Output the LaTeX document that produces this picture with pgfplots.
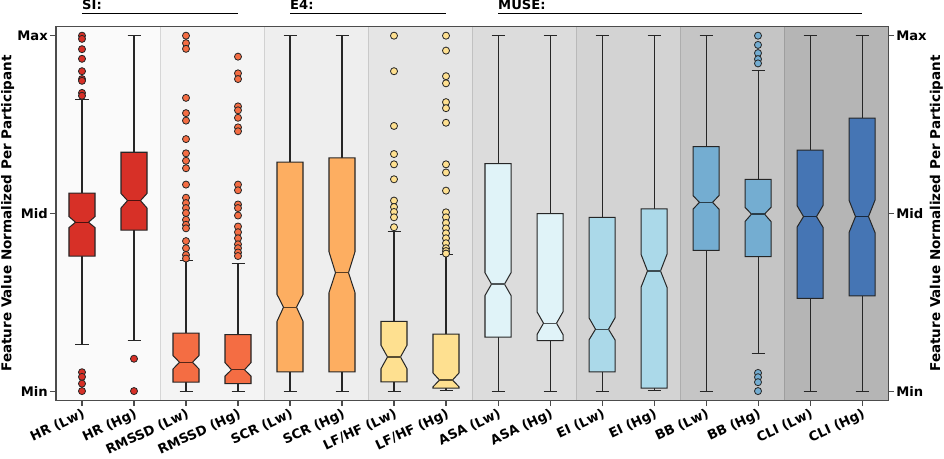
\documentclass[border=0pt]{standalone}
\usepackage{fontspec}
\setmainfont{DejaVu Sans}
\usepackage{pgfplots}
\pgfplotsset{compat=1.18}
\usepgfplotslibrary{statistics}

\definecolor{cHR}{HTML}{D73027}
\definecolor{cRM}{HTML}{F46D43}
\definecolor{cSC}{HTML}{FDAE61}
\definecolor{cLF}{HTML}{FEE090}
\definecolor{cAS}{HTML}{E0F3F8}
\definecolor{cEI}{HTML}{ABD9E9}
\definecolor{cBB}{HTML}{74ADD1}
\definecolor{cCL}{HTML}{4575B4}
% background shades of the pairs
\definecolor{g1}{RGB}{250,250,250}
\definecolor{g2}{RGB}{244,244,244}
\definecolor{g3}{RGB}{238,238,238}
\definecolor{g4}{RGB}{229,229,229}
\definecolor{g5}{RGB}{220,220,220}
\definecolor{g6}{RGB}{211,211,211}
\definecolor{g7}{RGB}{197,197,197}
\definecolor{g8}{RGB}{181,181,181}

\newcommand{\lbl}{\bfseries\fontsize{13}{15}\selectfont}
\newcommand{\ylbl}{\bfseries\fontsize{13.4}{15}\selectfont}

% notched boxes (notch inset = 1/4 of box width, as matplotlib)
\pgfplotsset{
  boxplot/notch lo/.initial=0,
  boxplot/notch hi/.initial=0,
  boxplot/draw/box/.code={%
    \draw[/pgfplots/boxplot/every box/.try]
      (boxplot box cs:\pgfplotsboxplotvalue{lower quartile},0) --
      (boxplot box cs:\pgfplotsboxplotvalue{notch lo},0) --
      (boxplot box cs:\pgfplotsboxplotvalue{median},0.25) --
      (boxplot box cs:\pgfplotsboxplotvalue{notch hi},0) --
      (boxplot box cs:\pgfplotsboxplotvalue{upper quartile},0) --
      (boxplot box cs:\pgfplotsboxplotvalue{upper quartile},1) --
      (boxplot box cs:\pgfplotsboxplotvalue{notch hi},1) --
      (boxplot box cs:\pgfplotsboxplotvalue{median},0.75) --
      (boxplot box cs:\pgfplotsboxplotvalue{notch lo},1) --
      (boxplot box cs:\pgfplotsboxplotvalue{lower quartile},1) -- cycle;
  },
  boxplot/draw/median/.code={%
    \draw[/pgfplots/boxplot/every median/.try]
      (boxplot box cs:\pgfplotsboxplotvalue{median},0.25) --
      (boxplot box cs:\pgfplotsboxplotvalue{median},0.75);
  },
  bx/.style={fill=#1, draw=black!85, line width=1pt,
    mark=*, mark size=3.5pt,
    mark options={fill=#1, draw=black!85, line width=0.8pt},
    boxplot/every median/.style={draw=#1!35!black, line width=1.2pt}},
  band/.style={fill=#1, draw=black, draw opacity=0.12, line width=0.8pt, forget plot},
}

\begin{document}
\begin{tikzpicture}
\begin{axis}[
  scale only axis, width=824pt, height=370pt,
  xmin=0.5, xmax=16.5, ymin=-0.0256, ymax=1.0256,
  axis on top, clip=false,
  xtick={1,...,16},
  xticklabels={HR (Lw),HR (Hg),RMSSD (Lw),RMSSD (Hg),SCR (Lw),SCR (Hg),LF/HF (Lw),LF/HF (Hg),ASA (Lw),ASA (Hg),EI (Lw),EI (Hg),BB (Lw),BB (Hg),CLI (Lw),CLI (Hg)},
  ytick={0,0.5,1}, yticklabels={Min,Mid,Max},
  xtick pos=bottom, ytick pos=left,
  tick align=outside, major tick length=6pt,
  tick style={draw=black!70, line width=1pt},
  axis line style={draw=black!70, line width=1pt},
  ticklabel style={font=\lbl},
  xticklabel style={rotate=25, anchor=north east, inner sep=1pt},
  yticklabel style={inner sep=2pt},
  ylabel={Feature Value Normalized Per Participant},
  ylabel style={font=\ylbl, inner sep=1pt},
  boxplot/draw direction=y,
  boxplot/box extend=0.5, boxplot/whisker extend=0.25,
]
% shaded pairs
\addplot[band=g1] coordinates {(0.5,-0.0256) (2.5,-0.0256) (2.5,1.0256) (0.5,1.0256)} -- cycle;
\addplot[band=g2] coordinates {(2.5,-0.0256) (4.5,-0.0256) (4.5,1.0256) (2.5,1.0256)} -- cycle;
\addplot[band=g3] coordinates {(4.5,-0.0256) (6.5,-0.0256) (6.5,1.0256) (4.5,1.0256)} -- cycle;
\addplot[band=g4] coordinates {(6.5,-0.0256) (8.5,-0.0256) (8.5,1.0256) (6.5,1.0256)} -- cycle;
\addplot[band=g5] coordinates {(8.5,-0.0256) (10.5,-0.0256) (10.5,1.0256) (8.5,1.0256)} -- cycle;
\addplot[band=g6] coordinates {(10.5,-0.0256) (12.5,-0.0256) (12.5,1.0256) (10.5,1.0256)} -- cycle;
\addplot[band=g7] coordinates {(12.5,-0.0256) (14.5,-0.0256) (14.5,1.0256) (12.5,1.0256)} -- cycle;
\addplot[band=g8] coordinates {(14.5,-0.0256) (16.5,-0.0256) (16.5,1.0256) (14.5,1.0256)} -- cycle;

% SI
\addplot[bx=cHR, boxplot prepared={draw position=1, lower whisker=0.131, lower quartile=0.380, median=0.475, upper quartile=0.557, upper whisker=0.821, notch lo=0.460, notch hi=0.491}]
  table[row sep=\\, y index=0] {y\\ 1.0\\ 0.991\\ 0.962\\ 0.935\\ 0.900\\ 0.878\\ 0.873\\ 0.839\\ 0.831\\ 0.053\\ 0.040\\ 0.021\\ 0.0\\};
\addplot[bx=cHR, boxplot prepared={draw position=2, lower whisker=0.141, lower quartile=0.453, median=0.536, upper quartile=0.672, upper whisker=1.0, notch lo=0.515, notch hi=0.556}]
  table[row sep=\\, y index=0] {y\\ 0.091\\ 0.0\\};
\addplot[bx=cRM, boxplot prepared={draw position=3, lower whisker=0.0, lower quartile=0.025, median=0.081, upper quartile=0.163, upper whisker=0.368, notch lo=0.062, notch hi=0.100}]
  table[row sep=\\, y index=0] {y\\ 1.0\\ 0.979\\ 0.963\\ 0.825\\ 0.782\\ 0.761\\ 0.709\\ 0.669\\ 0.648\\ 0.627\\ 0.581\\ 0.544\\ 0.529\\ 0.515\\ 0.501\\ 0.482\\ 0.468\\ 0.458\\ 0.422\\ 0.402\\ 0.383\\ 0.373\\};
\addplot[bx=cRM, boxplot prepared={draw position=4, lower whisker=0.0, lower quartile=0.021, median=0.060, upper quartile=0.159, upper whisker=0.358, notch lo=0.042, notch hi=0.080}]
  table[row sep=\\, y index=0] {y\\ 0.941\\ 0.894\\ 0.878\\ 0.801\\ 0.790\\ 0.769\\ 0.742\\ 0.731\\ 0.581\\ 0.565\\ 0.525\\ 0.515\\ 0.494\\ 0.463\\ 0.447\\ 0.430\\ 0.413\\ 0.402\\ 0.390\\ 0.380\\};
% E4
\addplot[bx=cSC, boxplot prepared={draw position=5, lower whisker=0.0, lower quartile=0.054, median=0.236, upper quartile=0.644, upper whisker=1.0, notch lo=0.196, notch hi=0.272}] coordinates {};
\addplot[bx=cSC, boxplot prepared={draw position=6, lower whisker=0.0, lower quartile=0.054, median=0.333, upper quartile=0.656, upper whisker=1.0, notch lo=0.277, notch hi=0.392}] coordinates {};
\addplot[bx=cLF, boxplot prepared={draw position=7, lower whisker=0.0, lower quartile=0.026, median=0.096, upper quartile=0.196, upper whisker=0.448, notch lo=0.063, notch hi=0.129}]
  table[row sep=\\, y index=0] {y\\ 1.0\\ 0.900\\ 0.746\\ 0.667\\ 0.638\\ 0.596\\ 0.536\\ 0.518\\ 0.504\\ 0.489\\ 0.461\\};
\addplot[bx=cLF, boxplot prepared={draw position=8, lower whisker=0.001, lower quartile=0.008, median=0.031, upper quartile=0.160, upper whisker=0.383, notch lo=0.012, notch hi=0.051}]
  table[row sep=\\, y index=0] {y\\ 1.0\\ 0.958\\ 0.886\\ 0.866\\ 0.813\\ 0.796\\ 0.755\\ 0.638\\ 0.615\\ 0.564\\ 0.503\\ 0.489\\ 0.473\\ 0.458\\ 0.444\\ 0.430\\ 0.416\\ 0.402\\ 0.394\\ 0.387\\};
% MUSE
\addplot[bx=cAS, boxplot prepared={draw position=9, lower whisker=0.0, lower quartile=0.152, median=0.301, upper quartile=0.640, upper whisker=1.0, notch lo=0.269, notch hi=0.333}] coordinates {};
\addplot[bx=cAS, boxplot prepared={draw position=10, lower whisker=0.0, lower quartile=0.142, median=0.191, upper quartile=0.499, upper whisker=1.0, notch lo=0.159, notch hi=0.223}] coordinates {};
\addplot[bx=cEI, boxplot prepared={draw position=11, lower whisker=0.0, lower quartile=0.054, median=0.174, upper quartile=0.489, upper whisker=1.0, notch lo=0.144, notch hi=0.206}] coordinates {};
\addplot[bx=cEI, boxplot prepared={draw position=12, lower whisker=0.001, lower quartile=0.0085, median=0.338, upper quartile=0.513, upper whisker=1.0, notch lo=0.292, notch hi=0.385}] coordinates {};
\addplot[bx=cBB, boxplot prepared={draw position=13, lower whisker=0.0, lower quartile=0.396, median=0.531, upper quartile=0.688, upper whisker=1.0, notch lo=0.512, notch hi=0.550}] coordinates {};
\addplot[bx=cBB, boxplot prepared={draw position=14, lower whisker=0.106, lower quartile=0.378, median=0.498, upper quartile=0.596, upper whisker=0.903, notch lo=0.477, notch hi=0.517}]
  table[row sep=\\, y index=0] {y\\ 1.0\\ 0.974\\ 0.951\\ 0.934\\ 0.922\\ 0.051\\ 0.039\\ 0.025\\ 0.0\\};
\addplot[bx=cCL, boxplot prepared={draw position=15, lower whisker=0.0, lower quartile=0.261, median=0.491, upper quartile=0.678, upper whisker=1.0, notch lo=0.461, notch hi=0.522}] coordinates {};
\addplot[bx=cCL, boxplot prepared={draw position=16, lower whisker=0.0, lower quartile=0.268, median=0.491, upper quartile=0.768, upper whisker=1.0, notch lo=0.446, notch hi=0.537}] coordinates {};

% device groups above the axis
\node[anchor=base west, inner sep=0pt, font=\lbl] at (axis cs:1,1.073) {SI:};
\node[anchor=base west, inner sep=0pt, font=\lbl] at (axis cs:5,1.073) {E4:};
\node[anchor=base west, inner sep=0pt, font=\lbl] at (axis cs:9,1.073) {MUSE:};
\draw[line width=1.3pt] (axis cs:1,1.063) -- (axis cs:4,1.063);
\draw[line width=1.3pt] (axis cs:5,1.063) -- (axis cs:8,1.063);
\draw[line width=1.3pt] (axis cs:9,1.063) -- (axis cs:16,1.063);
\end{axis}

% right-hand copy of the y axis
\begin{axis}[
  scale only axis, width=824pt, height=370pt,
  xmin=0.5, xmax=16.5, ymin=-0.0256, ymax=1.0256,
  hide x axis, axis y line*=right,
  ytick={0,0.5,1}, yticklabels={Min,Mid,Max},
  tick align=outside, major tick length=6pt,
  tick style={draw=black!70, line width=1pt},
  axis line style={draw=black!70, line width=1pt},
  ticklabel style={font=\lbl},
  yticklabel style={inner sep=2pt},
  ylabel={Feature Value Normalized Per Participant},
  ylabel style={font=\ylbl, inner sep=1pt},
]
\end{axis}
\end{tikzpicture}
\end{document}
